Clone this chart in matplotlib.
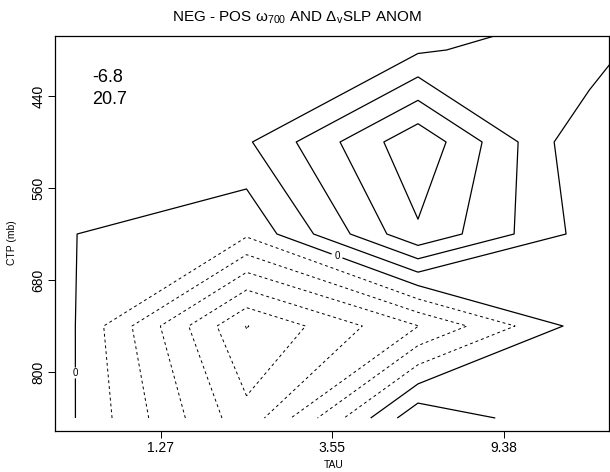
import matplotlib.pyplot as plt
import numpy as np

plt.rcParams['font.family'] = ['Liberation Sans', 'DejaVu Sans']
plt.rcParams['mathtext.fontset'] = 'custom'
plt.rcParams['mathtext.rm'] = 'Liberation Sans'
plt.rcParams['mathtext.it'] = 'Liberation Sans:italic'

# bin boundaries shown as tick labels
tau_ticks = ['1.27', '3.55', '9.38']
ctp_ticks = ['440', '560', '680', '800']

# cloud frequency difference on the bin-centre grid
# columns: tau bins 0.3-1.3, 1.3-3.6, 3.6-9.4, 9.4-23, 23-60
row_800_1000 = [0.01, -4.67, 1.78, 0.05, 0.3]
row_680_800 = [0.01, -6.04, -3.02, 0.55, 0.5]
row_560_680 = [0.01, -0.83, 3.85, 0.55, 0.5]
row_440_560 = [0.5, 0.865, 4.78, 0.02, 0.5]
row_310_440 = [0.5, 0.5, 0.85, 1.75, -2.3]
row_180_310 = [0.5, 0.5, 0.5, 0.1, -1.0]

omega_diff = '-6.8'
slp_diff = '20.7'
levels = [-6, -5, -4, -3, -2, -1, 0, 1, 2, 3, 4]

z = np.array([row_800_1000, row_680_800, row_560_680,
              row_440_560, row_310_440, row_180_310])
x = np.arange(z.shape[1])
y = np.arange(z.shape[0])

fig = plt.figure(figsize=(6.1, 4.72), dpi=100)
ax = fig.add_axes([55 / 610, 1 - 431 / 472, 554 / 610, 395 / 472])

# negative contours dashed, zero and positive solid
styles = [(0, (3, 3)) if lv < 0 else 'solid' for lv in levels]
widths = [0.7 if lv < 0 else 0.9 for lv in levels]
cs = ax.contour(x, y, z, levels=levels, colors='k',
                linewidths=widths, linestyles=styles)
lab = ax.clabel(cs, manual=[(0.0, 0.49), (1.53, 1.77)],
                fmt='%d', fontsize=7, inline=True, inline_spacing=2)
for t in lab:
    t.set_rotation(0)

ax.set_xlim(-0.117, 3.114)
ax.set_ylim(-0.141, 4.152)
ax.set_xticks([0.5, 1.5, 2.5], tau_ticks)
ax.set_yticks([0.5, 1.5, 2.5, 3.5], ctp_ticks[::-1])
ax.tick_params(axis='x', labelsize=10, length=5, width=0.7, pad=2)
ax.tick_params(axis='y', labelsize=10, length=5, width=0.7, pad=2,
               labelrotation=90)
for lbl in ax.get_yticklabels():
    lbl.set_va('center')
for s in ax.spines.values():
    s.set_linewidth(0.9)

fig.text(297 / 610, 1 - 18 / 472,
         r'NEG - POS ω$_{700}$ AND Δ$_{\mathrm{v}}$SLP ANOM',
         ha='center', va='center', fontsize=11)
fig.text(334 / 610, 1 - 465 / 472, 'TAU', ha='center', va='center',
         fontsize=7.5)
fig.text(12 / 610, 1 - 243 / 472, 'CTP (mb)', ha='center', va='center',
         rotation=90, fontsize=7.5)

fig.text(92 / 610, 1 - 78 / 472, omega_diff, ha='left', va='center',
         fontsize=13)
fig.text(92 / 610, 1 - 99 / 472, slp_diff, ha='left', va='center',
         fontsize=13)

fig.savefig('out.png', dpi=100)
